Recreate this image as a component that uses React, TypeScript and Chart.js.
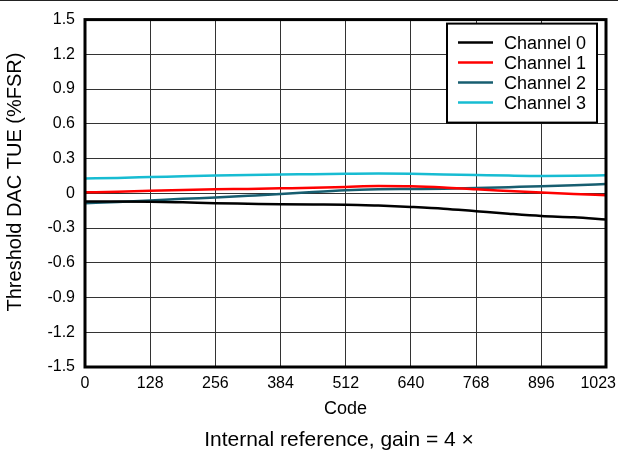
import React, { useEffect, useRef } from "react";
import { Chart, registerables } from "chart.js";

Chart.register(...registerables);

const codes = [0, 64, 128, 192, 256, 320, 384, 448, 512, 576, 640, 704, 768, 832, 896, 960, 1023];
const channel0 = [-0.07, -0.07, -0.072, -0.078, -0.085, -0.09, -0.095, -0.097, -0.098, -0.106, -0.118, -0.133, -0.155, -0.177, -0.196, -0.207, -0.226];
const channel1 = [0.008, 0.014, 0.022, 0.028, 0.034, 0.038, 0.043, 0.048, 0.055, 0.062, 0.06, 0.05, 0.034, 0.02, 0.006, -0.006, -0.016];
const channel2 = [-0.085, -0.075, -0.062, -0.048, -0.036, -0.022, -0.007, 0.012, 0.027, 0.034, 0.037, 0.04, 0.045, 0.053, 0.061, 0.07, 0.08];
const channel3 = [0.128, 0.133, 0.14, 0.147, 0.154, 0.159, 0.163, 0.165, 0.168, 0.17, 0.168, 0.163, 0.158, 0.153, 0.15, 0.152, 0.156];

const seriesNames = ["Channel 0", "Channel 1", "Channel 2", "Channel 3"];
const seriesColors = ["#000000", "#ff0000", "#175e70", "#17bcd2"];

const xTicks = [0, 128, 256, 384, 512, 640, 768, 896, 1023];
const yTicks = [-1.5, -1.2, -0.9, -0.6, -0.3, 0, 0.3, 0.6, 0.9, 1.2, 1.5];
const yTickLabels = ["-1.5", "-1.2", "-0.9", "-0.6", "-0.3", "0", "0.3", "0.6", "0.9", "1.2", "1.5"];

const xTitle = "Code";
const yTitle = "Threshold DAC TUE (%FSR)";
const subtitle = "Internal reference, gain = 4 ×";

const FONT = "'Liberation Sans', Arial, sans-serif";
const LAST_X = xTicks[xTicks.length - 1];

const decorPlugin = {
  id: "decor",
  afterDraw(chart: any) {
    const { ctx, chartArea, width } = chart;
    ctx.save();
    // top rule
    ctx.strokeStyle = "#222";
    ctx.lineWidth = 1;
    ctx.beginPath();
    ctx.moveTo(0, 0.5);
    ctx.lineTo(width, 0.5);
    ctx.stroke();
    // frame
    ctx.strokeStyle = "#000";
    ctx.lineWidth = 3;
    ctx.strokeRect(chartArea.left, chartArea.top, chartArea.right - chartArea.left, chartArea.bottom - chartArea.top);
    // last x tick label, kept inside the canvas
    ctx.font = `16px ${FONT}`;
    ctx.fillStyle = "#000";
    ctx.textAlign = "right";
    ctx.textBaseline = "middle";
    ctx.fillText(String(LAST_X), width - 2, chartArea.bottom + 17);
    // y title
    ctx.save();
    ctx.translate(15, 182);
    ctx.rotate(-Math.PI / 2);
    ctx.textAlign = "center";
    ctx.textBaseline = "middle";
    ctx.font = `20px ${FONT}`;
    ctx.fillText(yTitle, 0, 0);
    ctx.restore();
    // legend box
    const bx = chartArea.right - 159;
    const by = chartArea.top + 4;
    const bw = 150;
    const bh = 99;
    ctx.fillStyle = "#fff";
    ctx.fillRect(bx, by, bw, bh);
    ctx.strokeStyle = "#000";
    ctx.lineWidth = 2;
    ctx.strokeRect(bx, by, bw, bh);
    ctx.font = `18px ${FONT}`;
    ctx.textBaseline = "middle";
    ctx.textAlign = "left";
    chart.data.datasets.forEach((ds: any, i: number) => {
      const y = by + 19 + i * 20;
      ctx.strokeStyle = ds.borderColor;
      ctx.lineWidth = 2.5;
      ctx.beginPath();
      ctx.moveTo(bx + 11, y);
      ctx.lineTo(bx + 46, y);
      ctx.stroke();
      ctx.fillStyle = "#000";
      ctx.fillText(ds.label, bx + 57, y + 1);
    });
    // subtitle
    ctx.font = `21px ${FONT}`;
    ctx.textAlign = "center";
    ctx.fillStyle = "#000";
    ctx.fillText(subtitle, 339, 440);
    ctx.restore();
  },
};

export default function App() {
  const ref = useRef<HTMLCanvasElement>(null);
  useEffect(() => {
    if (!ref.current) return;
    const series = [channel0, channel1, channel2, channel3];
    const chart = new Chart(ref.current, {
      type: "line",
      data: {
        datasets: series.map((vals, i) => ({
          label: seriesNames[i],
          data: codes.map((c, j) => ({ x: c, y: vals[j] })),
          borderColor: seriesColors[i],
          backgroundColor: seriesColors[i],
          borderWidth: 2.5,
          pointRadius: 0,
          cubicInterpolationMode: "monotone" as const,
        })),
      },
      options: {
        animation: false,
        responsive: false,
        maintainAspectRatio: false,
        layout: { padding: { top: 18, right: 12, left: 0, bottom: 32 } },
        plugins: { legend: { display: false }, tooltip: { enabled: false } },
        scales: {
          x: {
            type: "linear",
            min: 0,
            max: 1023,
            afterBuildTicks: (s: any) => {
              s.ticks = xTicks.map((v) => ({ value: v }));
            },
            afterFit: (s: any) => {
              s.height = 53;
              s.paddingLeft = 0;
              s.paddingRight = 0;
            },
            grid: { color: "#333", lineWidth: 1, drawTicks: false },
            border: { display: false },
            ticks: {
              padding: 7,
              color: "#000",
              font: { family: FONT, size: 16 },
              maxRotation: 0,
              autoSkip: false,
              callback: (v: any) => (Number(v) === LAST_X ? "" : String(v)),
            },
            title: {
              display: true,
              text: xTitle,
              color: "#000",
              font: { family: FONT, size: 18 },
              padding: { top: 0, bottom: 0 },
            },
          },
          y: {
            type: "linear",
            min: -1.5,
            max: 1.5,
            afterBuildTicks: (s: any) => {
              s.ticks = yTicks.map((v) => ({ value: v }));
            },
            afterFit: (s: any) => {
              s.width = 85;
            },
            grid: { color: "#333", lineWidth: 1, drawTicks: false },
            border: { display: false },
            ticks: {
              padding: 10,
              color: "#000",
              font: { family: FONT, size: 16 },
              autoSkip: false,
              callback: (v: any) => {
                const idx = yTicks.findIndex((t) => Math.abs(t - Number(v)) < 1e-6);
                return idx >= 0 ? yTickLabels[idx] : "";
              },
            },
            title: { display: false },
          },
        },
      },
      plugins: [decorPlugin],
    });
    return () => chart.destroy();
  }, []);
  return (
    <div style={{ position: "absolute", left: 0, top: 0, width: 618, height: 452, background: "#fff" }}>
      <canvas ref={ref} width={618} height={452} style={{ width: 618, height: 452, display: "block" }} />
    </div>
  );
}
